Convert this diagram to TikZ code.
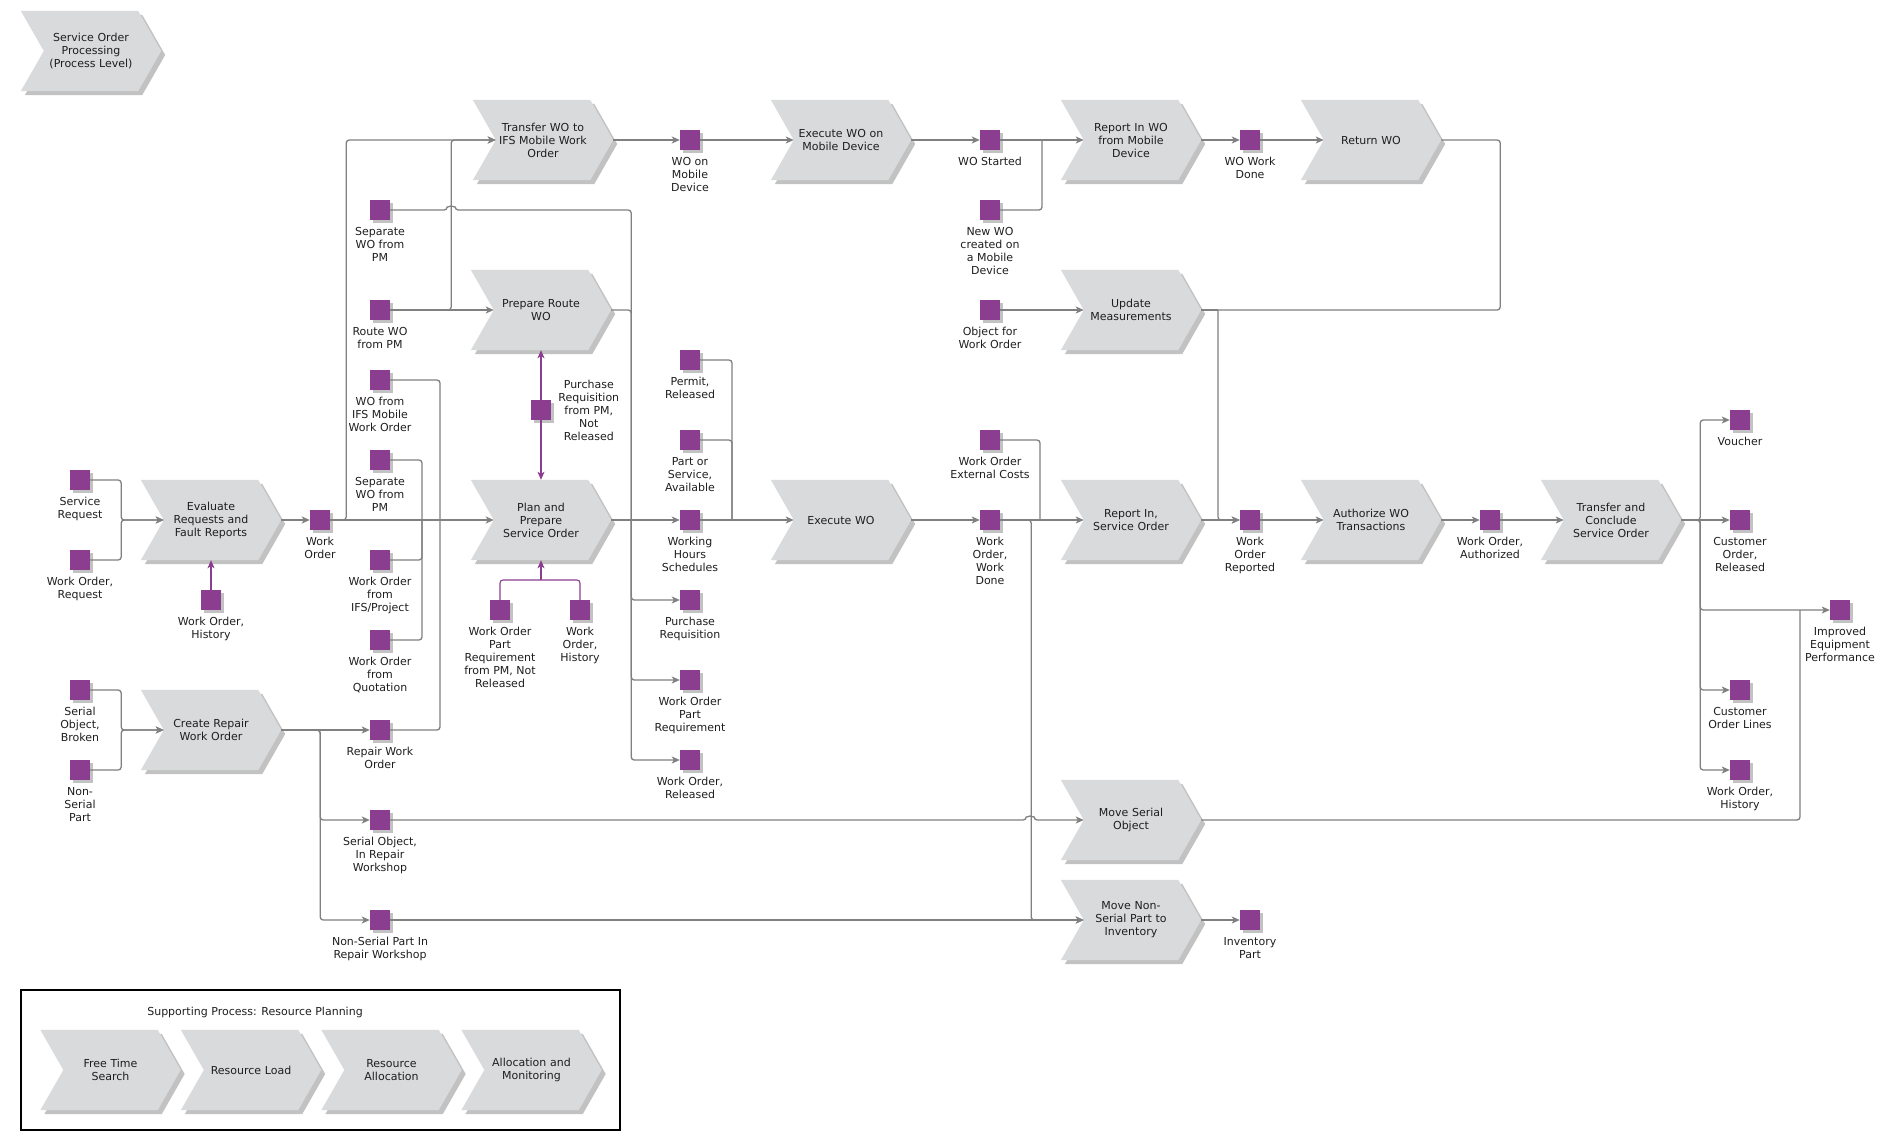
\documentclass[tikz,border=0pt]{standalone}
\usepackage{fontspec}
\setmainfont{DejaVu Sans}
\usepackage{tikz}
\usetikzlibrary{arrows.meta, positioning, backgrounds, shadows}
\definecolor{ProcGray}{HTML}{D9DADB}
\definecolor{ShadowGray}{HTML}{C2C2C2}
\definecolor{ObjPurple}{HTML}{8B3E8F}
\definecolor{LineGray}{HTML}{808080}
\definecolor{TextDark}{HTML}{1E1E1E}
\tikzset{
  proc/.style={
    rectangle, minimum width=140pt, minimum height=80pt,
    text width=124pt, align=center, inner sep=0pt,
    font=\fontsize{11}{13}\selectfont, text=TextDark
  },
  chev/.style={
    insert path={(#1.north west) -- ([xshift=-23pt]#1.north east) -- (#1.east)
      -- ([xshift=-23pt]#1.south east) -- (#1.south west) -- ([xshift=23pt]#1.west) -- cycle}
  },
  obj/.style={
    rectangle, fill=ObjPurple, minimum size=20pt, inner sep=0pt,
    drop shadow={shadow xshift=3pt, shadow yshift=-3pt, fill=ShadowGray, opacity=1}
  },
  lbl/.style={inner sep=1pt, align=center, font=\fontsize{11}{13}\selectfont, text=TextDark},
  conn/.style={line width=1.3pt, color=LineGray, rounded corners=3pt},
  arr/.style={conn, -{Stealth[length=8pt, width=7pt, inset=2pt]}},
  pLine/.style={line width=1.1pt, color=ObjPurple, rounded corners=3pt},
  pArr/.style={pLine, -{Stealth[length=8pt, width=7pt, inset=2pt]}},
}

\begin{document}
\begin{tikzpicture}[x=1pt, y=-1pt]
\useasboundingbox (0,0) rectangle (1894,1140);

% processes
\node[proc] (sop) at (91,51) {Service Order\\Processing\\(Process Level)};
\node[proc] (ev) at (211,520) {Evaluate\\Requests and\\Fault Reports};
\node[proc] (crwo) at (211,730) {Create Repair\\Work Order};
\node[proc] (trans) at (543,140) {Transfer WO to\\IFS Mobile Work\\Order};
\node[proc] (prep) at (541,310) {Prepare Route\\WO};
\node[proc] (plan) at (541,520) {Plan and\\Prepare\\Service Order};
\node[proc] (exmob) at (841,140) {Execute WO on\\Mobile Device};
\node[proc] (exwo) at (841,520) {Execute WO};
\node[proc] (repmob) at (1131,140) {Report In WO\\from Mobile\\Device};
\node[proc] (updm) at (1131,310) {Update\\Measurements};
\node[proc] (repso) at (1131,520) {Report In,\\Service Order};
\node[proc] (movser) at (1131,820) {Move Serial\\Object};
\node[proc] (movns) at (1131,920) {Move Non-\\Serial Part to\\Inventory};
\node[proc] (ret) at (1371,140) {Return WO};
\node[proc] (auth) at (1371,520) {Authorize WO\\Transactions};
\node[proc] (tc) at (1611,520) {Transfer and\\Conclude\\Service Order};

% supporting process
\node[draw=black, line width=1.2pt, minimum width=599pt, minimum height=140pt, inner sep=0pt] (spbox) at (320.5,1060) {};
\node[lbl] (sptitle) at (255,1012) {Supporting Process: Resource Planning};
\node[proc] (fts) at (110.5,1070) {Free Time\\Search};
\node[proc] (rl) at (251,1070) {Resource Load};
\node[proc] (ra) at (391.5,1070) {Resource\\Allocation};
\node[proc] (am) at (531.5,1070) {Allocation and\\Monitoring};

\begin{scope}[on background layer]
  \foreach \n in {sop,ev,crwo,trans,prep,plan,exmob,exwo,repmob,updm,repso,movser,movns,ret,auth,tc,fts,rl,ra,am}
    \fill[ShadowGray, transform canvas={xshift=4pt, yshift=-4pt}, chev=\n];
  \foreach \n in {sop,ev,crwo,trans,prep,plan,exmob,exwo,repmob,updm,repso,movser,movns,ret,auth,tc,fts,rl,ra,am}
    \fill[ProcGray, chev=\n];
\end{scope}

\foreach \n in {ev,crwo,trans,prep,plan,exmob,exwo,repmob,updm,repso,movser,movns,ret,auth,tc}
  \coordinate (\n-in) at ([xshift=23pt]\n.west);

% events
\node[obj] (sr) at (80,480) {};
\node[lbl, below=6pt of sr] (sr-t) {Service\\Request};
\node[obj] (woreq) at (80,560) {};
\node[lbl, below=6pt of woreq] (woreq-t) {Work Order,\\Request};
\node[obj] (woh1) at (211,600) {};
\node[lbl, below=6pt of woh1] (woh1-t) {Work Order,\\History};
\node[obj] (wo) at (320,520) {};
\node[lbl, below=6pt of wo] (wo-t) {Work\\Order};
\node[obj] (sob) at (80,690) {};
\node[lbl, below=6pt of sob] (sob-t) {Serial\\Object,\\Broken};
\node[obj] (nsp) at (80,770) {};
\node[lbl, below=6pt of nsp] (nsp-t) {Non-\\Serial\\Part};

\node[obj] (sep1) at (380,210) {};
\node[lbl, below=6pt of sep1] (sep1-t) {Separate\\WO from\\PM};
\node[obj] (route) at (380,310) {};
\node[lbl, below=6pt of route] (route-t) {Route WO\\from PM};
\node[obj] (woifsm) at (380,380) {};
\node[lbl, below=6pt of woifsm] (woifsm-t) {WO from\\IFS Mobile\\Work Order};
\node[obj] (sep2) at (380,460) {};
\node[lbl, below=6pt of sep2] (sep2-t) {Separate\\WO from\\PM};
\node[obj] (woifsp) at (380,560) {};
\node[lbl, below=6pt of woifsp] (woifsp-t) {Work Order\\from\\IFS/Project};
\node[obj] (woq) at (380,640) {};
\node[lbl, below=6pt of woq] (woq-t) {Work Order\\from\\Quotation};
\node[obj] (rwo) at (380,730) {};
\node[lbl, below=6pt of rwo] (rwo-t) {Repair Work\\Order};
\node[obj] (soir) at (380,820) {};
\node[lbl, below=6pt of soir] (soir-t) {Serial Object,\\In Repair\\Workshop};
\node[obj] (nspir) at (380,920) {};
\node[lbl, below=6pt of nspir] (nspir-t) {Non-Serial Part In\\Repair Workshop};

\node[obj] (prpm) at (541,410) {};
\node[lbl, right=6pt of prpm] (prpm-t) {Purchase\\Requisition\\from PM,\\Not\\Released};
\node[obj] (woprpm) at (500,610) {};
\node[lbl, below=6pt of woprpm] (woprpm-t) {Work Order\\Part\\Requirement\\from PM, Not\\Released};
\node[obj] (woh2) at (580,610) {};
\node[lbl, below=6pt of woh2] (woh2-t) {Work\\Order,\\History};

\node[obj] (womob) at (690,140) {};
\node[lbl, below=6pt of womob] (womob-t) {WO on\\Mobile\\Device};
\node[obj] (permit) at (690,360) {};
\node[lbl, below=6pt of permit] (permit-t) {Permit,\\Released};
\node[obj] (partserv) at (690,440) {};
\node[lbl, below=6pt of partserv] (partserv-t) {Part or\\Service,\\Available};
\node[obj] (whs) at (690,520) {};
\node[lbl, below=6pt of whs] (whs-t) {Working\\Hours\\Schedules};
\node[obj] (pr) at (690,600) {};
\node[lbl, below=6pt of pr] (pr-t) {Purchase\\Requisition};
\node[obj] (wopr) at (690,680) {};
\node[lbl, below=6pt of wopr] (wopr-t) {Work Order\\Part\\Requirement};
\node[obj] (worel) at (690,760) {};
\node[lbl, below=6pt of worel] (worel-t) {Work Order,\\Released};

\node[obj] (wost) at (990,140) {};
\node[lbl, below=6pt of wost] (wost-t) {WO Started};
\node[obj] (newwo) at (990,210) {};
\node[lbl, below=6pt of newwo] (newwo-t) {New WO\\created on\\a Mobile\\Device};
\node[obj] (objwo) at (990,310) {};
\node[lbl, below=6pt of objwo] (objwo-t) {Object for\\Work Order};
\node[obj] (woext) at (990,440) {};
\node[lbl, below=6pt of woext] (woext-t) {Work Order\\External Costs};
\node[obj] (wowd) at (990,520) {};
\node[lbl, below=6pt of wowd] (wowd-t) {Work\\Order,\\Work\\Done};

\node[obj] (wodone) at (1250,140) {};
\node[lbl, below=6pt of wodone] (wodone-t) {WO Work\\Done};
\node[obj] (worep) at (1250,520) {};
\node[lbl, below=6pt of worep] (worep-t) {Work\\Order\\Reported};
\node[obj] (invpart) at (1250,920) {};
\node[lbl, below=6pt of invpart] (invpart-t) {Inventory\\Part};
\node[obj] (woauth) at (1490,520) {};
\node[lbl, below=6pt of woauth] (woauth-t) {Work Order,\\Authorized};

\node[obj] (voucher) at (1740,420) {};
\node[lbl, below=6pt of voucher] (voucher-t) {Voucher};
\node[obj] (corel) at (1740,520) {};
\node[lbl, below=6pt of corel] (corel-t) {Customer\\Order,\\Released};
\node[obj] (iep) at (1840,610) {};
\node[lbl, below=6pt of iep] (iep-t) {Improved\\Equipment\\Performance};
\node[obj] (col) at (1740,690) {};
\node[lbl, below=6pt of col] (col-t) {Customer\\Order Lines};
\node[obj] (woh3) at (1740,770) {};
\node[lbl, below=6pt of woh3] (woh3-t) {Work Order,\\History};

% junctions
\coordinate (j1) at (440,520);
\coordinate (j2) at (422,520);
\coordinate (pj) at ([xshift=20pt]plan.east);
\coordinate (pj2) at (541,580);
\coordinate (ej) at (732,520);
\coordinate (rj) at (1040,520);
\coordinate (tj) at (1042,140);
\coordinate (uj) at (1218,310);
\coordinate (ij) at (1800,610);

% flow
\draw[arr] (sr.east) -- ++(31,0) |- (ev-in);
\draw[arr] (woreq.east) -- ++(31,0) |- (ev-in);
\draw[pArr] (woh1) -- (ev.south);
\draw[arr] (ev.east) -- (wo);
\draw[arr] (wo.east) -- (plan-in);
\draw[arr] (wo.east) -- ++(16,0) |- (trans-in);
\draw[arr] (route) -- (prep-in);
\draw[arr] (route.east) -- ++(61,0) |- (trans-in);
\draw[conn] (sep1.east) -- ++(57,0) arc[start angle=180, end angle=360, radius=4] -| (pj);
\draw[conn] (woifsm.east) -| (j1);
\draw[conn] (rwo.east) -| (j1);
\draw[conn] (sep2.east) -| (j2);
\draw[conn] (woifsp.east) -| (j2);
\draw[conn] (woq.east) -| (j2);
\draw[pArr] (prpm) -- (prep.south);
\draw[pArr] (prpm) -- (plan.north);
\draw[pLine] (woprpm) |- (pj2) -| (woh2);
\draw[pArr] (pj2) -- (plan.south);

\draw[conn] (prep.east) -| (pj);
\draw[arr] (plan.east) -- (whs);
\draw[arr] (pj) |- (pr);
\draw[arr] (pj) |- (wopr);
\draw[arr] (pj) |- (worel);
\draw[arr] (whs) -- (exwo-in);
\draw[conn] (permit.east) -| (ej);
\draw[conn] (partserv.east) -| (ej);

\draw[arr] (trans.east) -- (womob);
\draw[arr] (womob) -- (exmob-in);
\draw[arr] (exmob.east) -- (wost);
\draw[arr] (wost) -- (repmob-in);
\draw[conn] (newwo.east) -| (tj);
\draw[arr] (repmob.east) -- (wodone);
\draw[arr] (wodone) -- (ret-in);
\draw[conn] (ret.east) -- ++(59,0) |- (uj);
\draw[conn] (updm.east) -- (uj);
\draw[arr] (uj) |- (worep);
\draw[arr] (objwo) -- (updm-in);

\draw[arr] (exwo.east) -- (wowd);
\draw[arr] (wowd) -- (repso-in);
\draw[conn] (woext.east) -| (rj);
\draw[arr] (wowd.east) -- ++(31,0) |- (movns-in);
\draw[arr] (repso.east) -- (worep);
\draw[arr] (worep) -- (auth-in);
\draw[arr] (auth.east) -- (woauth);
\draw[arr] (woauth) -- (tc-in);

\draw[arr] (tc.east) -- (corel);
\draw[arr] (tc.east) -- ++(19,0) |- (voucher);
\draw[arr] (tc.east) -- ++(19,0) |- (iep);
\draw[arr] (tc.east) -- ++(19,0) |- (col);
\draw[arr] (tc.east) -- ++(19,0) |- (woh3);
\draw[conn] (movser.east) -| (ij);

\draw[arr] (sob.east) -- ++(31,0) |- (crwo-in);
\draw[arr] (nsp.east) -- ++(31,0) |- (crwo-in);
\draw[arr] (crwo.east) -- (rwo);
\draw[arr] (crwo.east) -- ++(39,0) |- (soir);
\draw[arr] (crwo.east) -- ++(39,0) |- (nspir);
\draw[arr] (soir.east) -- ++(636,0) arc[start angle=180, end angle=360, radius=4] -- (movser-in);
\draw[arr] (nspir) -- (movns-in);
\draw[arr] (movns.east) -- (invpart);

\end{tikzpicture}
\end{document}
